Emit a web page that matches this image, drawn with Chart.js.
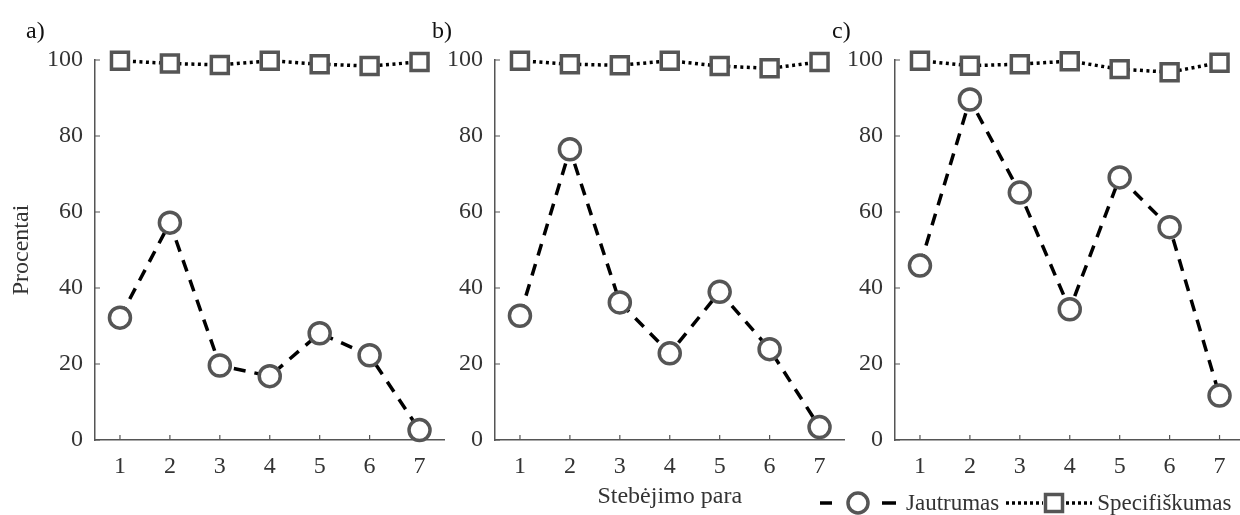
<!DOCTYPE html>
<html>
<head>
<meta charset="utf-8">
<script src="https://cdn.jsdelivr.net/npm/chart.js@4.4.1/dist/chart.umd.min.js"></script>
<style>
  body { margin: 0; width: 1240px; height: 515px; overflow: hidden; background: #fff; position: relative; font-family: "Liberation Serif", "Times New Roman", serif; }
  canvas.panel { position: absolute; top: 0; }
  .lbl { position: absolute; font-size: 24px; line-height: 24px; color: #111; }
  #legend { position: absolute; left: 820px; top: 489px; height: 28px; display: flex; align-items: center; font-size: 23px; color: #333; white-space: nowrap; }
</style>
</head>
<body>
<canvas id="pa" class="panel" width="460" height="515" style="left:0px"></canvas>
<canvas id="pb" class="panel" width="460" height="515" style="left:400px"></canvas>
<canvas id="pc" class="panel" width="460" height="515" style="left:800px"></canvas>

<div class="lbl" style="left:26px;top:18px">a)</div>
<div class="lbl" style="left:432px;top:18px">b)</div>
<div class="lbl" style="left:832px;top:18px">c)</div>

<div id="legend">
  <svg width="77" height="28">
    <line x1="0" y1="14" x2="12" y2="14" stroke="#000" stroke-width="3.5"/>
    <line x1="62" y1="14" x2="76" y2="14" stroke="#000" stroke-width="3.5"/>
    <circle cx="38" cy="14" r="10" fill="#fff" stroke="#555" stroke-width="3.5"/>
  </svg>
  <span style="margin-left:9px">Jautrumas</span>
  <svg width="86" height="28" style="margin-left:7px">
    <line x1="0" y1="14" x2="37" y2="14" stroke="#000" stroke-width="3.5" stroke-dasharray="3 3"/>
    <line x1="60" y1="14" x2="86" y2="14" stroke="#000" stroke-width="3.5" stroke-dasharray="3 3"/>
    <rect x="39.5" y="5.5" width="17" height="17" fill="#fff" stroke="#555" stroke-width="3.5"/>
  </svg>
  <span style="margin-left:5px">Specifiškumas</span>
</div>

<script>
// observation days
const days = ['1', '2', '3', '4', '5', '6', '7'];
const yTicks = [0, 20, 40, 60, 80, 100];

// panel a)
const jautrumasA = [32.2, 57.2, 19.6, 16.8, 28.1, 22.3, 2.6];
const specifA = [99.8, 99.1, 98.7, 99.8, 98.9, 98.4, 99.5];
// panel b)
const jautrumasB = [32.7, 76.5, 36.2, 22.8, 39.0, 23.9, 3.4];
const specifB = [99.8, 98.9, 98.6, 99.8, 98.4, 97.8, 99.5];
// panel c)
const jautrumasC = [45.9, 89.6, 65.1, 34.4, 69.1, 56.0, 11.7];
const specifC = [99.8, 98.5, 98.9, 99.7, 97.6, 96.8, 99.3];

const serif = '"Liberation Serif", "Times New Roman", serif';
const axisColor = '#555';

// MATLAB style ticks pointing into the plot
const inwardTicks = {
  id: 'inwardTicks',
  beforeDatasetsDraw(chart) {
    const { ctx, chartArea, scales } = chart;
    ctx.save();
    ctx.strokeStyle = axisColor;
    ctx.lineWidth = 1.2;
    ctx.beginPath();
    scales.x.ticks.forEach((t, i) => {
      const px = scales.x.getPixelForTick(i);
      ctx.moveTo(px, chartArea.bottom);
      ctx.lineTo(px, chartArea.bottom - 5);
    });
    scales.y.ticks.forEach((t, i) => {
      const py = scales.y.getPixelForTick(i);
      ctx.moveTo(chartArea.left, py);
      ctx.lineTo(chartArea.left + 5, py);
    });
    ctx.stroke();
    ctx.restore();
  }
};

function makePanel(id, jaut, spec, yTitle, xTitle) {
  new Chart(document.getElementById(id), {
    type: 'line',
    data: {
      labels: days,
      datasets: [
        {
          label: 'Jautrumas',
          data: jaut,
          borderColor: '#000',
          borderWidth: 3.5,
          borderDash: [12, 9],
          pointStyle: 'circle',
          pointRadius: 10.5,
          pointBorderWidth: 3.5,
          pointBorderColor: '#555',
          pointBackgroundColor: '#fff',
          tension: 0,
          clip: false,
        },
        {
          label: 'Specifiškumas',
          data: spec,
          borderColor: '#000',
          borderWidth: 3.5,
          borderDash: [3, 3.5],
          pointStyle: 'rect',
          pointRadius: 12,
          pointBorderWidth: 3.5,
          pointBorderColor: '#555',
          pointBackgroundColor: '#fff',
          tension: 0,
          clip: false,
        },
      ],
    },
    options: {
      responsive: false,
      animation: false,
      events: [],
      layout: { padding: { top: 60, right: 15, left: 0, bottom: 0 } },
      plugins: { legend: { display: false }, tooltip: { enabled: false } },
      scales: {
        x: {
          type: 'category',
          offset: true,
          grid: { display: true, drawOnChartArea: false, drawTicks: false },
          border: { display: true, color: axisColor, width: 1.5 },
          ticks: { color: '#333', padding: 12, font: { family: serif, size: 24 } },
          title: { display: !!xTitle, text: xTitle, color: '#333', padding: { top: 4, bottom: 4 }, font: { family: serif, size: 24 } },
          afterFit: (s) => { s.height = 75; },
        },
        y: {
          min: 0,
          max: 100,
          afterBuildTicks: (s) => { s.ticks = yTicks.map(v => ({ value: v })); },
          grid: { display: true, drawOnChartArea: false, drawTicks: false },
          border: { display: true, color: axisColor, width: 1.5 },
          ticks: { color: '#333', padding: 12, font: { family: serif, size: 24 } },
          title: { display: !!yTitle, text: yTitle, color: '#333', padding: { top: 7, bottom: 4 }, font: { family: serif, size: 24 } },
          afterFit: (s) => { s.width = 95; },
        },
      },
    },
    plugins: [inwardTicks],
  });
}

makePanel('pa', jautrumasA, specifA, 'Procentai', '');
makePanel('pb', jautrumasB, specifB, '', 'Stebėjimo para');
makePanel('pc', jautrumasC, specifC, '', '');
</script>
</body>
</html>
